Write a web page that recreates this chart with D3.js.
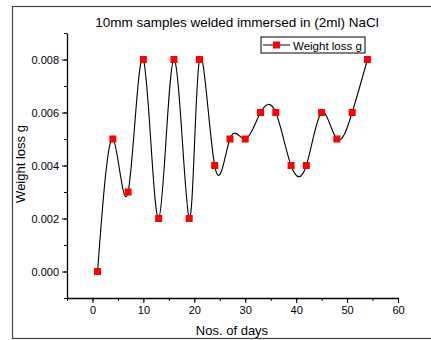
<!DOCTYPE html>
<html>
<head>
<meta charset="utf-8">
<script src="https://cdn.jsdelivr.net/npm/d3@7"></script>
<style>
  body { margin: 0; background: #fff; }
  text { font-family: "Liberation Sans", Arial, sans-serif; fill: #000; }
</style>
</head>
<body>
<div id="chart"></div>
<script>
// days and weight loss
var days = [1, 4, 7, 10, 13, 16, 19, 21, 24, 27, 30, 33, 36, 39, 42, 45, 48, 51, 54];
var weightLoss = [0.000, 0.005, 0.003, 0.008, 0.002, 0.008, 0.002, 0.008, 0.004, 0.005,
                  0.005, 0.006, 0.006, 0.004, 0.004, 0.006, 0.005, 0.006, 0.008];
var xTicks = [0, 10, 20, 30, 40, 50, 60];
var yTicks = [0.000, 0.002, 0.004, 0.006, 0.008];

var width = 431, height = 340;
var margin = {top: 33, right: 33, bottom: 42, left: 67};

var svg = d3.select("#chart")
    .append("svg")
    .attr("width", width)
    .attr("height", height);

// outer frame (right edge runs off the picture)
svg.append("rect")
    .attr("x", 12.5).attr("y", 6.5)
    .attr("width", 430).attr("height", 332)
    .style("fill", "none")
    .style("stroke", "#444")
    .style("stroke-width", 1.2);

var x = d3.scaleLinear().domain([-5, 60]).range([margin.left, width - margin.right]);
var y = d3.scaleLinear().domain([-0.001, 0.009]).range([height - margin.bottom, margin.top]);

var g = svg.append("g");

// x axis
g.append("g")
    .attr("transform", "translate(0," + y(-0.001) + ")")
    .call(d3.axisBottom(x).tickValues(d3.range(-5, 60, 5)).tickSize(3).tickFormat(""))
    .call(function(a) { a.select(".domain").remove(); });
g.append("g")
    .attr("transform", "translate(0," + y(-0.001) + ")")
    .call(d3.axisBottom(x).tickValues(xTicks).tickSize(5).tickSizeOuter(0).tickPadding(3))
    .call(function(a) {
        a.selectAll("text").style("font-size", "11px");
        a.select(".domain").style("stroke-width", 1.3);
    });

// y axis
g.append("g")
    .attr("transform", "translate(" + x(-5) + ",0)")
    .call(d3.axisLeft(y).tickValues(d3.range(-0.001, 0.0095, 0.001)).tickSize(3).tickFormat(""))
    .call(function(a) { a.select(".domain").remove(); });
g.append("g")
    .attr("transform", "translate(" + x(-5) + ",0)")
    .call(d3.axisLeft(y).tickValues(yTicks).tickSize(5).tickSizeOuter(0).tickPadding(3).tickFormat(d3.format(".3f")))
    .call(function(a) {
        a.selectAll("text").style("font-size", "11px");
        a.select(".domain").style("stroke-width", 1.3);
    });

var points = days.map(function(d, i) { return [d, weightLoss[i]]; });

var line = d3.line()
    .x(function(d) { return x(d[0]); })
    .y(function(d) { return y(d[1]); })
    .curve(d3.curveNatural);

g.append("path")
    .datum(points)
    .attr("d", line)
    .style("fill", "none")
    .style("stroke", "#000")
    .style("stroke-width", 1.1);

g.selectAll("rect.pt")
    .data(points)
    .enter()
    .append("rect")
    .attr("class", "pt")
    .attr("x", function(d) { return x(d[0]) - 3.5; })
    .attr("y", function(d) { return y(d[1]) - 3.5; })
    .attr("width", 7)
    .attr("height", 7)
    .style("fill", "#ff0000");

// title and labels
svg.append("text")
    .attr("x", 237).attr("y", 27)
    .attr("text-anchor", "middle")
    .style("font-size", "13.5px")
    .text("10mm samples welded immersed in (2ml) NaCl");

svg.append("text")
    .attr("x", 232).attr("y", 335)
    .attr("text-anchor", "middle")
    .style("font-size", "13px")
    .text("Nos. of days");

svg.append("text")
    .attr("transform", "translate(25,164) rotate(-90)")
    .attr("text-anchor", "middle")
    .style("font-size", "13px")
    .text("Weight loss g");

// legend
var lg = svg.append("g").attr("transform", "translate(261,37)");
lg.append("rect")
    .attr("width", 104).attr("height", 16)
    .style("fill", "#fff")
    .style("stroke", "#000")
    .style("stroke-width", 1);
lg.append("line")
    .attr("x1", 2).attr("x2", 29).attr("y1", 8).attr("y2", 8)
    .style("stroke", "#000");
lg.append("rect")
    .attr("x", 12).attr("y", 4.5).attr("width", 7).attr("height", 7)
    .style("fill", "#ff0000");
lg.append("text")
    .attr("x", 32).attr("y", 12.5)
    .style("font-size", "11.5px")
    .text("Weight loss g");
</script>
</body>
</html>
